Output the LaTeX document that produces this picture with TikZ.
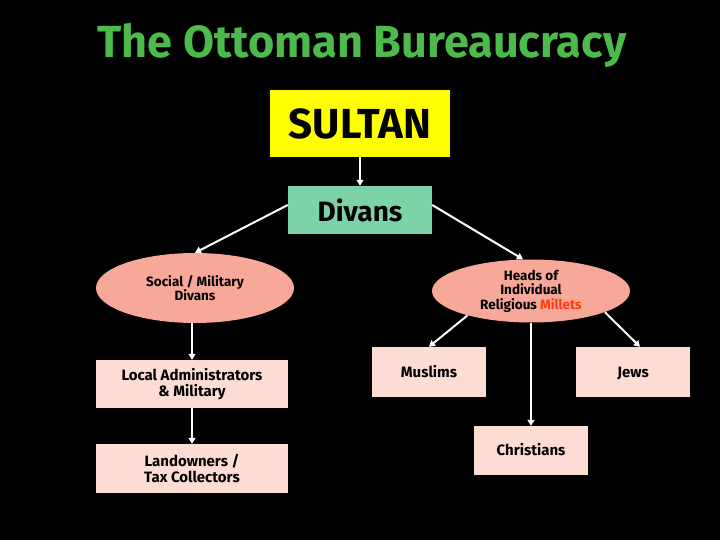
\documentclass[tikz,border=0pt]{standalone}
\usepackage{fontspec}
\setmainfont{Fira Sans}
\usetikzlibrary{shapes.geometric,arrows.meta}
\definecolor{titlegreen}{HTML}{4CBB4C}
\definecolor{sultanyellow}{HTML}{FFFF00}
\definecolor{divmint}{HTML}{7DD3A8}
\definecolor{salmon}{HTML}{F8A898}
\definecolor{peach}{HTML}{FDDDD3}
\definecolor{milletred}{HTML}{FF3A10}
\tikzset{
  box/.style={rectangle, fill=peach, inner sep=2pt, align=center, font=\fontsize{15}{16}\selectfont\bfseries, text=black},
  onebox/.style={box, text height=10.8pt, text depth=0pt},
  oval/.style={ellipse, fill=salmon, inner sep=0pt, align=center, font=\fontsize{13.5}{14.5}\selectfont\bfseries, text=black},
  conn/.style={draw=white, line width=2pt, -{Triangle[width=7pt,length=6pt]}},
}
\begin{document}
\begin{tikzpicture}[x=1pt,y=-1pt]
\fill[black] (0,0) rectangle (720,540);
\useasboundingbox (0,0) rectangle (720,540);
\node (title) at (362,45) {\fontsize{45}{48}\selectfont\bfseries\color{titlegreen}The Ottoman Bureaucracy};
\node[rectangle, fill=sultanyellow, minimum width=180pt, minimum height=67pt, font=\fontsize{42}{44}\selectfont\bfseries] (sultan) at (360,123.5) {SULTAN};
\node[rectangle, fill=divmint, minimum width=144pt, minimum height=48pt, font=\fontsize{28}{30}\selectfont\bfseries] (divans) at (360,210) {Divans};
\node[oval, minimum width=198pt, minimum height=70pt] (lell) at (195,288) {Social / Military\\Divans};
\node[oval, minimum width=198pt, minimum height=63pt] (rell) at (531,291) {Heads of\\Individual\\Religious \textcolor{milletred}{Millets}};
\node[box, minimum width=192pt, minimum height=48pt] (local) at (192,384) {Local Administrators\\\& Military};
\node[box, minimum width=192pt, minimum height=49pt] (land) at (192,468.5) {Landowners /\\Tax Collectors};
\node[onebox, minimum width=114pt, minimum height=50pt] (muslims) at (429,372) {Muslims};
\node[onebox, minimum width=114pt, minimum height=50pt] (jews) at (633,372) {Jews};
\node[onebox, minimum width=114pt, minimum height=49pt] (christ) at (531,450.5) {Christians};
\draw[conn] (sultan.south) -- (divans.north);
\draw[conn] ([yshift=5pt]divans.west) -- (lell.north);
\draw[conn] ([yshift=5pt]divans.east) -- ([xshift=-8pt]rell.north);
\draw[conn] (local.north |- lell.south) -- (local.north);
\draw[conn] (local.south) -- (land.north);
\draw[conn] (rell.south) -- (christ.north);
\draw[conn] (rell.201) -- (muslims.north);
\draw[conn] (rell.344) -- ([xshift=7pt]jews.north);
\end{tikzpicture}
\end{document}
